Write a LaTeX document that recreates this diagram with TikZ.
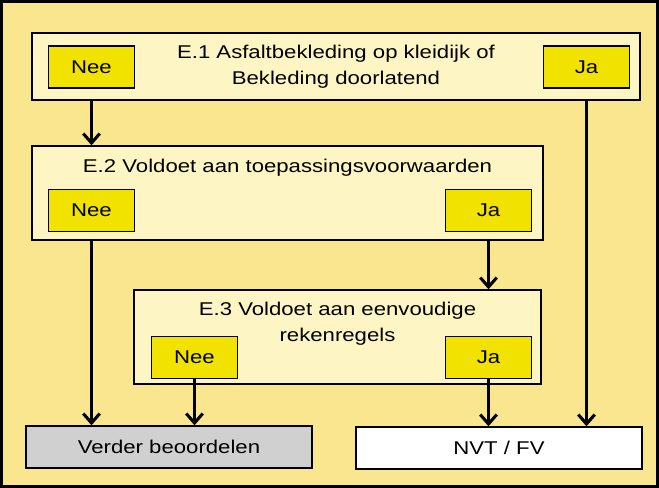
\documentclass[tikz,border=0pt]{standalone}
\usepackage{fontspec}
\setmainfont[FakeStretch=1.2]{Liberation Sans}
\usetikzlibrary{arrows.meta}
\definecolor{achtergrond}{RGB}{249,230,142}
\definecolor{vraagvak}{RGB}{253,246,196}
\definecolor{keuzegeel}{RGB}{242,226,0}
\definecolor{grijsvak}{RGB}{208,208,208}

\begin{document}
\begin{tikzpicture}[x=0.85pt, y=-0.85pt,
		every node/.style={font=\fontsize{15.7}{22}\selectfont, inner sep=0pt},
		vraag/.style={rectangle, draw, line width=1.2pt, fill=vraagvak},
		keuze/.style={rectangle, draw, line width=1pt, fill=keuzegeel, minimum width=73.1pt, minimum height=35.7pt},
		uitkomst/.style={rectangle, draw, line width=1.2pt, minimum width=243.1pt, minimum height=35.7pt},
		pijl/.style={line width=2.6pt, -{Straight Barb[length=8pt, width=14pt]}}]
				\useasboundingbox (0,0) rectangle (659,488);
				\draw[line width=2.6pt, fill=achtergrond] (1.5,1.5) rectangle (657.5,486.5);
				
				\node[vraag, minimum width=516.8pt, minimum height=56.95pt] (e1) at (336,66.5) {};
				\node[vraag, minimum width=434.35pt, minimum height=79.9pt] (e2) at (287.5,193) {};
				\node[vraag, minimum width=345.95pt, minimum height=79.9pt] (e3) at (337.5,337) {};
				
				\node[align=center] (t1) at (336,67) {E.1 Asfaltbekleding op kleidijk of\\Bekleding doorlatend};
				\node (t2) at (287.5,168) {E.2 Voldoet aan toepassingsvoorwaarden};
				\node[align=center] (t3) at (337.5,324) {E.3 Voldoet aan eenvoudige\\rekenregels};
				
				\node[keuze] (nee1) at (91.5,67) {Nee};
				\node[keuze] (ja1) at (586.5,67) {Ja};
				\node[keuze] (nee2) at (91.5,210.5) {Nee};
				\node[keuze] (ja2) at (488.5,210.5) {Ja};
				\node[keuze] (nee3) at (194.5,357.5) {Nee};
				\node[keuze] (ja3) at (488.5,357.5) {Ja};
				
				\node[uitkomst, fill=grijsvak] (verder) at (169,447) {Verder beoordelen};
				\node[uitkomst, fill=white] (nvt) at (499,448) {NVT / FV};
				
				\draw[pijl] (nee1 |- e1.south) -- (nee1 |- e2.north);
				\draw[pijl] (ja1 |- e1.south) -- (ja1 |- nvt.north);
				\draw[pijl] (nee2 |- e2.south) -- (nee2 |- verder.north);
				\draw[pijl] (ja2 |- e2.south) -- (ja2 |- e3.north);
				\draw[pijl] (nee3.south) -- (nee3 |- verder.north);
				\draw[pijl] (ja3.south) -- (ja3 |- nvt.north);
			\end{tikzpicture}
\end{document}
